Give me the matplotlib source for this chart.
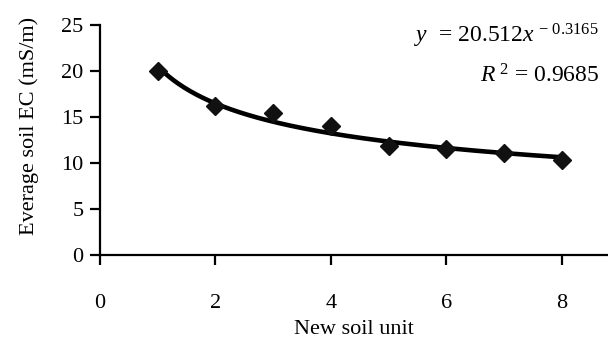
import numpy as np
import matplotlib
matplotlib.use('Agg')
import matplotlib.pyplot as plt

# Data
soil_unit = [1, 2, 3, 4, 5, 6, 7, 8]
avg_ec = [20.0, 16.2, 15.4, 14.0, 11.9, 11.5, 11.1, 10.3]

# Power trend line coefficients shown on the chart
coef_a = 20.512
coef_b = -0.3165
r_squared = 0.9685

plt.rcParams['font.family'] = ['Liberation Serif', 'DejaVu Serif']
plt.rcParams['mathtext.fontset'] = 'custom'
plt.rcParams['mathtext.rm'] = 'Liberation Serif'
plt.rcParams['mathtext.it'] = 'Liberation Serif:italic'

fig = plt.figure(figsize=(6.08, 3.4), dpi=100)
ax = fig.add_axes([100 / 608, 1 - 255 / 340, 508 / 608, 230 / 340])

# Trend line
xs = np.linspace(soil_unit[0], soil_unit[-1], 200)
ax.plot(xs, coef_a * xs ** coef_b, color='black', lw=3.3, zorder=2)
ax.plot(soil_unit, avg_ec, linestyle='none', marker='D', ms=9.5,
        color='#111111', zorder=3)

ax.set_xlim(0, 8.8)
ax.set_ylim(0, 25)
ax.set_xticks([0, 2, 4, 6, 8])
ax.set_yticks([0, 5, 10, 15, 20, 25])

for side in ['top', 'right']:
    ax.spines[side].set_visible(False)
for side in ['left', 'bottom']:
    ax.spines[side].set_linewidth(1.6)

ax.tick_params(axis='both', direction='out', length=7, width=1.6,
               labelsize=16)
ax.tick_params(axis='x', pad=21)
ax.tick_params(axis='y', pad=5)

ax.set_xlabel('New soil unit', size=16, labelpad=5)
ax.set_ylabel('Everage soil EC (mS/m)', size=16)
ax.yaxis.set_label_coords(-0.12, 0.56)

fig.text(0.985, 0.874, r'$y$  = 20.512$x^{\,-\,0.3165}$', ha='right',
         va='baseline', size=17)
fig.text(0.985, 0.756, r'$R^{\;2}$ = ' + f'{r_squared}', ha='right',
         va='baseline', size=17)

fig.savefig('out.png', dpi=100)
